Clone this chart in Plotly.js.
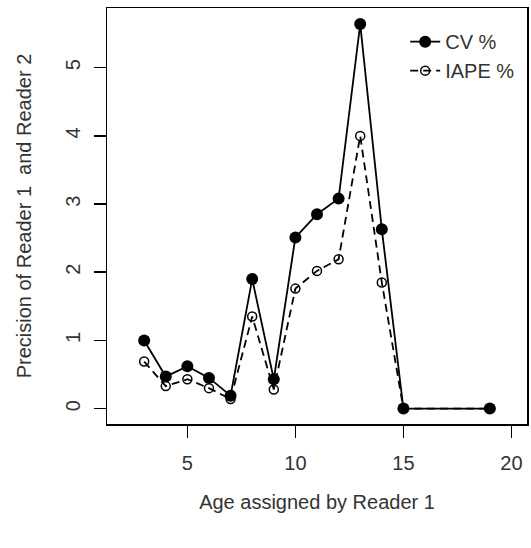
<!DOCTYPE html>
<html>
<head>
<meta charset="utf-8">
<script src="https://cdn.plot.ly/plotly-3.0.1.min.js"></script>
<style>html,body{margin:0;padding:0;background:#fff;}#chart{width:531px;height:548px;}</style>
</head>
<body>
<div id="chart"></div>
<script>
const ages = [3, 4, 5, 6, 7, 8, 9, 10, 11, 12, 13, 14, 15, 19];
const cvPct = [1.00, 0.47, 0.62, 0.45, 0.19, 1.90, 0.43, 2.51, 2.85, 3.08, 5.64, 2.63, 0, 0];
const iapePct = [0.69, 0.33, 0.43, 0.30, 0.14, 1.35, 0.28, 1.76, 2.02, 2.19, 4.00, 1.85, 0, 0];
const xTicks = [5, 10, 15, 20];
const yTicks = [0, 1, 2, 3, 4, 5];

const font = {family: 'Liberation Sans, Arial, sans-serif', size: 20, color: '#333'};

const traces = [
  {x: ages, y: cvPct, name: 'CV %', type: 'scatter', mode: 'lines+markers',
   line: {color: '#000', width: 1.8},
   marker: {symbol: 'circle', size: 12, color: '#000'}},
  {x: ages, y: iapePct, name: 'IAPE %', type: 'scatter', mode: 'lines+markers',
   line: {color: '#000', width: 1.8, dash: '8px,5px'},
   marker: {symbol: 'circle-open', size: 9, color: '#000', line: {width: 1.5, color: '#000'}}}
];

const layout = {
  width: 531, height: 548,
  margin: {l: 107, r: 4, t: 8, b: 124},
  paper_bgcolor: '#fff', plot_bgcolor: '#fff',
  font: font,
  showlegend: true,
  legend: {x: 0.71, y: 0.966, xanchor: 'left', yanchor: 'top', bgcolor: 'rgba(0,0,0,0)',
           borderwidth: 0, font: font, tracegroupgap: 0},
  xaxis: {range: [1.28, 20.72], tickvals: xTicks, ticktext: xTicks.map(String),
          showgrid: false, zeroline: false, showline: true, mirror: true,
          linecolor: '#000', linewidth: 1.5, ticks: 'outside', ticklen: 12, tickwidth: 1.5,
          tickcolor: '#000', tickfont: font, ticklabelstandoff: 8,
          title: {text: 'Age assigned by Reader 1', font: font, standoff: 22}},
  yaxis: {range: [-0.226, 5.876], tickvals: yTicks, ticktext: yTicks.map(String),
          showgrid: false, zeroline: false, showline: true, mirror: true,
          linecolor: '#000', linewidth: 1.5, ticks: 'outside', ticklen: 12, tickwidth: 1.5,
          tickcolor: '#000', tickfont: font, tickangle: -90, ticklabelstandoff: 6,
          title: {text: 'Precision of Reader 1  and Reader 2', font: font, standoff: 24}}
};

Plotly.newPlot('chart', traces, layout, {displayModeBar: false, staticPlot: true});
</script>
</body>
</html>
